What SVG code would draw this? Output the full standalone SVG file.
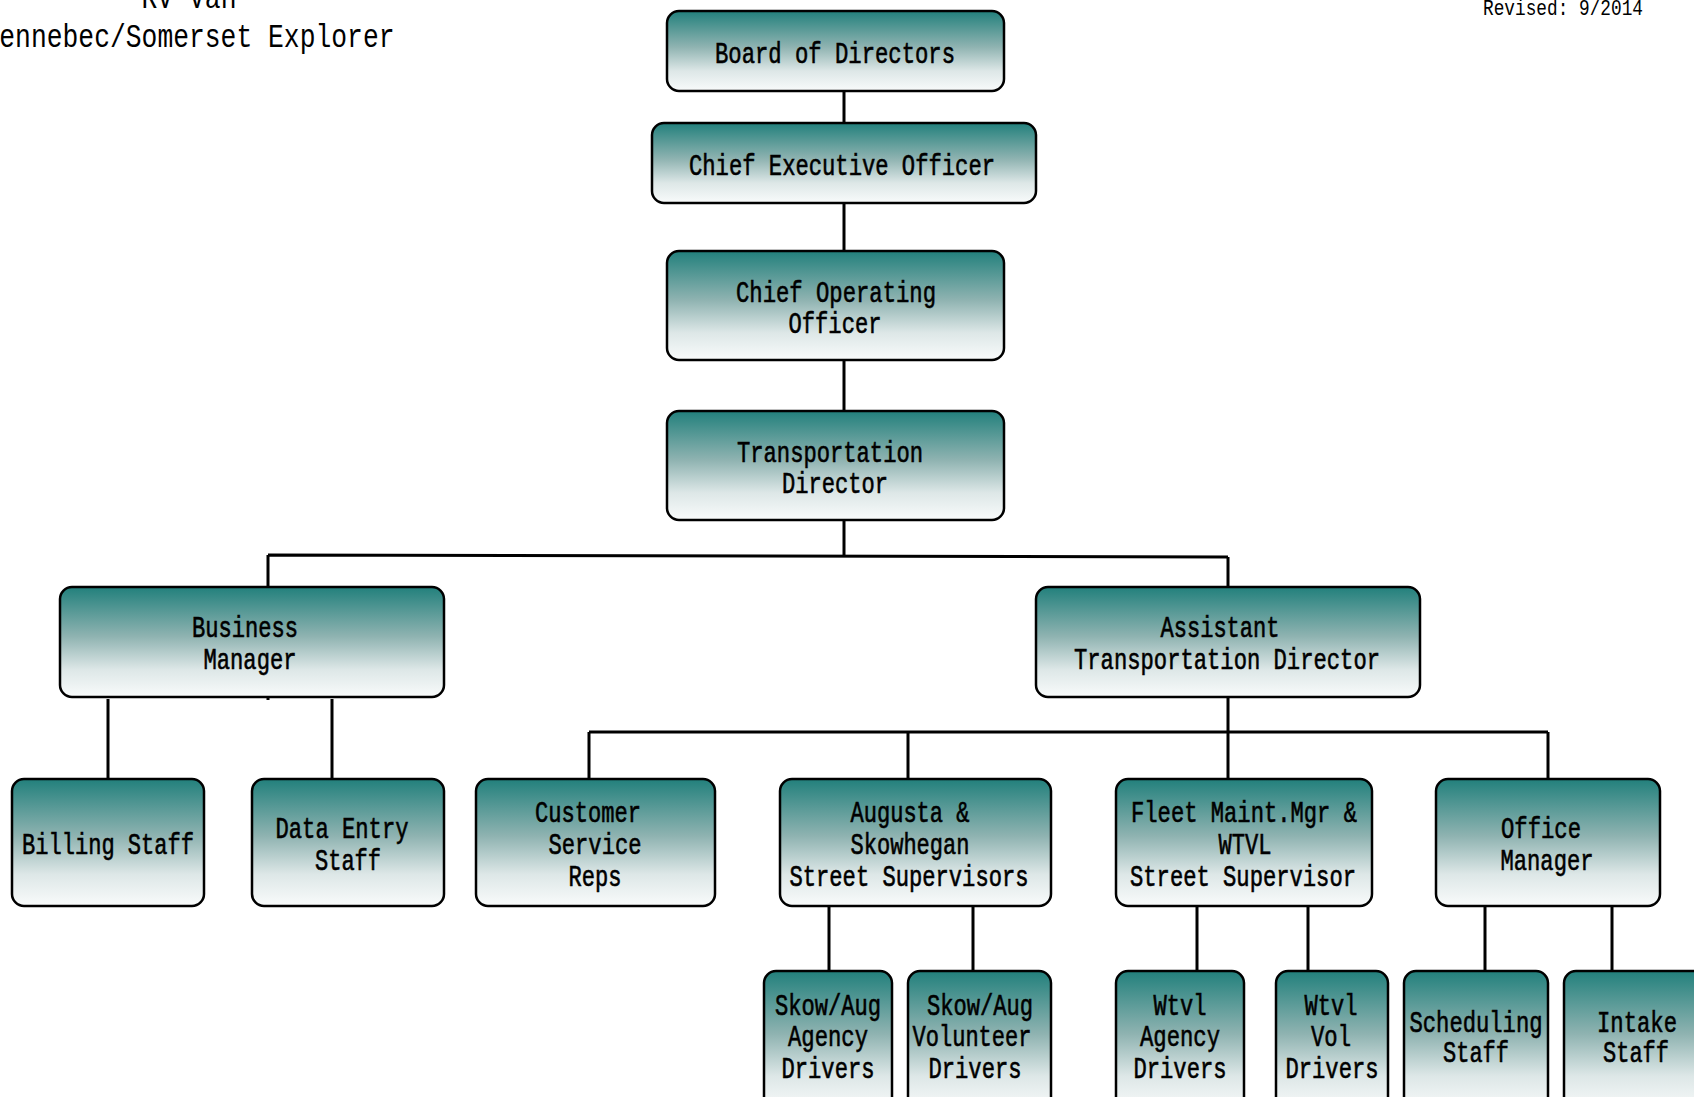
<svg xmlns="http://www.w3.org/2000/svg" width="1694" height="1097" viewBox="0 0 1694 1097">
<defs>
<linearGradient id="g" x1="0" y1="0" x2="0" y2="1">
<stop offset="0" stop-color="#22807c"/>
<stop offset="0.45" stop-color="#8fb3b1"/>
<stop offset="0.75" stop-color="#dde7e7"/>
<stop offset="1" stop-color="#f9fbfb"/>
</linearGradient>
</defs>
<style>
.box{fill:url(#g);stroke:#000;stroke-width:2.5}
.t{font-family:"Liberation Mono",monospace;font-size:29px;fill:#000;stroke:#000;stroke-width:0.6;text-anchor:middle}
.title{font-family:"Liberation Mono",monospace;font-size:33px;fill:#000;text-anchor:middle}
.rev{font-family:"Liberation Mono",monospace;font-size:22px;fill:#000;text-anchor:middle}
.c{stroke:#000;stroke-width:3;fill:none}
</style>
<g id="header">
<text class="title" x="189" y="8" textLength="95" lengthAdjust="spacingAndGlyphs">RV Van</text>
<text class="title" x="189" y="47" textLength="411" lengthAdjust="spacingAndGlyphs">Kennebec/Somerset Explorer</text>
<text class="rev" x="1563" y="15" textLength="160" lengthAdjust="spacingAndGlyphs">Revised: 9/2014</text>
</g>
<g id="connectors">
<path class="c" d="M844 91V123M844 203V251M844 360V411M844 520V556"/>
<path class="c" d="M268 555L1228 557M268 555V587M1228 557V587M268 696V700"/>
<path class="c" d="M108 699V779M332 699V779"/>
<path class="c" d="M1228 697V732M589 732H1548M589 732V779M908 732V779M1228 732V779M1548 732V779"/>
<path class="c" d="M829 905V971M973 905V971M1197 905V971M1308 905V971M1485 905V971M1612 905V971"/>
</g>
<g id="board">
<rect class="box" x="667" y="11" width="337" height="80" rx="12"/>
<text class="t" x="835" y="63" textLength="240" lengthAdjust="spacingAndGlyphs">Board of Directors</text>
</g>
<g id="ceo">
<rect class="box" x="652" y="123" width="384" height="80" rx="12"/>
<text class="t" x="842" y="175" textLength="306" lengthAdjust="spacingAndGlyphs">Chief Executive Officer</text>
</g>
<g id="coo">
<rect class="box" x="667" y="251" width="337" height="109" rx="12"/>
<text class="t" x="836" y="302" textLength="200" lengthAdjust="spacingAndGlyphs">Chief Operating</text>
<text class="t" x="835" y="333" textLength="93" lengthAdjust="spacingAndGlyphs">Officer</text>
</g>
<g id="transportation-director">
<rect class="box" x="667" y="411" width="337" height="109" rx="12"/>
<text class="t" x="830" y="462" textLength="186" lengthAdjust="spacingAndGlyphs">Transportation</text>
<text class="t" x="835" y="493" textLength="106" lengthAdjust="spacingAndGlyphs">Director</text>
</g>
<g id="business-manager">
<rect class="box" x="60" y="587" width="384" height="110" rx="12"/>
<text class="t" x="245" y="637" textLength="106" lengthAdjust="spacingAndGlyphs">Business</text>
<text class="t" x="250" y="669" textLength="93" lengthAdjust="spacingAndGlyphs">Manager</text>
</g>
<g id="assistant-td">
<rect class="box" x="1036" y="587" width="384" height="110" rx="12"/>
<text class="t" x="1220" y="637" textLength="119" lengthAdjust="spacingAndGlyphs">Assistant</text>
<text class="t" x="1227" y="669" textLength="306" lengthAdjust="spacingAndGlyphs">Transportation Director</text>
</g>
<g id="billing-staff">
<rect class="box" x="12" y="779" width="192" height="127" rx="12"/>
<text class="t" x="108" y="854" textLength="172" lengthAdjust="spacingAndGlyphs">Billing Staff</text>
</g>
<g id="data-entry-staff">
<rect class="box" x="252" y="779" width="192" height="127" rx="12"/>
<text class="t" x="342" y="838" textLength="133" lengthAdjust="spacingAndGlyphs">Data Entry</text>
<text class="t" x="348" y="870" textLength="66" lengthAdjust="spacingAndGlyphs">Staff</text>
</g>
<g id="customer-service">
<rect class="box" x="476" y="779" width="239" height="127" rx="12"/>
<text class="t" x="588" y="822" textLength="106" lengthAdjust="spacingAndGlyphs">Customer</text>
<text class="t" x="595" y="854" textLength="93" lengthAdjust="spacingAndGlyphs">Service</text>
<text class="t" x="595" y="886" textLength="53" lengthAdjust="spacingAndGlyphs">Reps</text>
</g>
<g id="augusta">
<rect class="box" x="780" y="779" width="271" height="127" rx="12"/>
<text class="t" x="910" y="822" textLength="119" lengthAdjust="spacingAndGlyphs">Augusta &amp;</text>
<text class="t" x="910" y="854" textLength="119" lengthAdjust="spacingAndGlyphs">Skowhegan</text>
<text class="t" x="909" y="886" textLength="239" lengthAdjust="spacingAndGlyphs">Street Supervisors</text>
</g>
<g id="fleet">
<rect class="box" x="1116" y="779" width="256" height="127" rx="12"/>
<text class="t" x="1244" y="822" textLength="226" lengthAdjust="spacingAndGlyphs">Fleet Maint.Mgr &amp;</text>
<text class="t" x="1245" y="854" textLength="53" lengthAdjust="spacingAndGlyphs">WTVL</text>
<text class="t" x="1243" y="886" textLength="226" lengthAdjust="spacingAndGlyphs">Street Supervisor</text>
</g>
<g id="office-manager">
<rect class="box" x="1436" y="779" width="224" height="127" rx="12"/>
<text class="t" x="1541" y="838" textLength="80" lengthAdjust="spacingAndGlyphs">Office</text>
<text class="t" x="1547" y="870" textLength="93" lengthAdjust="spacingAndGlyphs">Manager</text>
</g>
<g id="skow-agency">
<rect class="box" x="764" y="971" width="128" height="140" rx="12"/>
<text class="t" x="828" y="1015" textLength="106" lengthAdjust="spacingAndGlyphs">Skow/Aug</text>
<text class="t" x="828" y="1046" textLength="80" lengthAdjust="spacingAndGlyphs">Agency</text>
<text class="t" x="828" y="1078" textLength="93" lengthAdjust="spacingAndGlyphs">Drivers</text>
</g>
<g id="skow-volunteer">
<rect class="box" x="908" y="971" width="143" height="140" rx="12"/>
<text class="t" x="980" y="1015" textLength="106" lengthAdjust="spacingAndGlyphs">Skow/Aug</text>
<text class="t" x="972" y="1046" textLength="119" lengthAdjust="spacingAndGlyphs">Volunteer</text>
<text class="t" x="975" y="1078" textLength="93" lengthAdjust="spacingAndGlyphs">Drivers</text>
</g>
<g id="wtvl-agency">
<rect class="box" x="1116" y="971" width="128" height="140" rx="12"/>
<text class="t" x="1180" y="1015" textLength="53" lengthAdjust="spacingAndGlyphs">Wtvl</text>
<text class="t" x="1180" y="1046" textLength="80" lengthAdjust="spacingAndGlyphs">Agency</text>
<text class="t" x="1180" y="1078" textLength="93" lengthAdjust="spacingAndGlyphs">Drivers</text>
</g>
<g id="wtvl-vol">
<rect class="box" x="1276" y="971" width="112" height="140" rx="12"/>
<text class="t" x="1331" y="1015" textLength="53" lengthAdjust="spacingAndGlyphs">Wtvl</text>
<text class="t" x="1331" y="1046" textLength="40" lengthAdjust="spacingAndGlyphs">Vol</text>
<text class="t" x="1332" y="1078" textLength="93" lengthAdjust="spacingAndGlyphs">Drivers</text>
</g>
<g id="scheduling-staff">
<rect class="box" x="1404" y="971" width="144" height="140" rx="12"/>
<text class="t" x="1476" y="1032" textLength="133" lengthAdjust="spacingAndGlyphs">Scheduling</text>
<text class="t" x="1476" y="1062" textLength="66" lengthAdjust="spacingAndGlyphs">Staff</text>
</g>
<g id="intake-staff">
<rect class="box" x="1564" y="971" width="146" height="140" rx="12"/>
<text class="t" x="1637" y="1032" textLength="80" lengthAdjust="spacingAndGlyphs">Intake</text>
<text class="t" x="1636" y="1062" textLength="66" lengthAdjust="spacingAndGlyphs">Staff</text>
</g>
</svg>
